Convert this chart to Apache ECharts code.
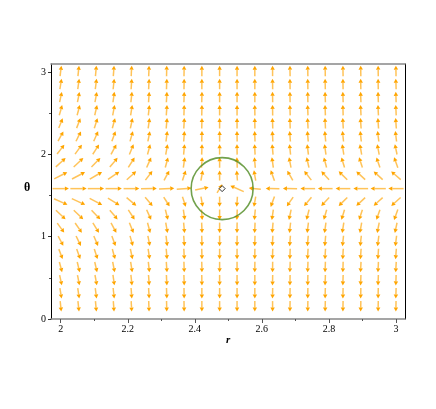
<!DOCTYPE html>
<html><head><meta charset="utf-8">
<script src="https://cdn.jsdelivr.net/npm/echarts@6/dist/echarts.min.js"></script>
<style>html,body{margin:0;padding:0;background:#fff}#c{width:436px;height:409px}</style>
</head><body><div id="c"></div>
<script>
// sample points of the field (r columns, theta rows)
const rGrid = [2.000,2.053,2.105,2.158,2.211,2.263,2.316,2.368,2.421,2.474,2.526,2.579,2.632,2.684,2.737,2.789,2.842,2.895,2.947,3.000];
const thetaGrid = [0.154,0.313,0.472,0.631,0.790,0.949,1.108,1.267,1.426,1.585,1.744,1.903,2.062,2.221,2.380,2.539,2.698,2.857,3.016];

// arrow direction (degrees, counter-clockwise from +r) for each row, bottom to top
const angleRow01 = [-84,-84,-85,-86,-87,-88,-89,-89,-90,-90,-90,-90,-90,-91,-91,-91,-91,-91,-91,-91];
const angleRow02 = [-81,-82,-83,-84,-86,-87,-88,-89,-90,-90,-90,-90,-91,-91,-91,-91,-91,-91,-91,-92];
const angleRow03 = [-78,-79,-80,-82,-84,-86,-87,-88,-89,-90,-90,-90,-91,-91,-91,-92,-92,-92,-92,-92];
const angleRow04 = [-75,-76,-77,-79,-81,-84,-86,-88,-89,-90,-90,-91,-91,-92,-92,-92,-92,-93,-93,-93];
const angleRow05 = [-69,-70,-72,-75,-78,-82,-85,-87,-89,-90,-90,-91,-92,-92,-93,-93,-93,-94,-94,-94];
const angleRow06 = [-62,-64,-67,-70,-74,-79,-83,-86,-89,-90,-91,-92,-93,-94,-95,-95,-96,-96,-97,-97];
const angleRow07 = [-54,-55,-58,-62,-68,-75,-80,-85,-88,-90,-91,-93,-95,-96,-97,-98,-99,-100,-101,-102];
const angleRow08 = [-43,-44,-46,-50,-57,-66,-76,-82,-86,-90,-92,-95,-98,-102,-104,-106,-107,-108,-109,-110];
const angleRow09 = [-24,-25,-28,-32,-40,-50,-58,-72,-80,-90,-94,-100,-110,-125,-130,-133,-135,-137,-138,-138];
const angleRow10 = [0,0,0,0,0,1,2,4,11,59,156,175,178,179,180,180,180,180,180,180];
const angleRow11 = [27,28,30,34,42,53,62,72,80,90,94,100,110,120,128,132,135,137,138,139];
const angleRow12 = [42,43,45,50,57,66,75,82,86,90,92,95,98,101,103,105,107,108,109,110];
const angleRow13 = [52,54,57,62,68,75,80,85,88,90,91,93,95,96,97,98,99,100,101,102];
const angleRow14 = [61,63,66,70,74,79,83,86,89,90,91,92,93,94,95,95,96,96,97,97];
const angleRow15 = [68,69,72,75,78,82,85,87,89,90,90,91,92,92,93,93,93,94,94,94];
const angleRow16 = [74,75,77,79,81,84,86,88,89,90,90,91,91,92,92,92,92,93,93,93];
const angleRow17 = [78,79,80,82,84,86,87,88,89,90,90,90,91,91,91,92,92,92,92,92];
const angleRow18 = [81,82,83,84,86,87,88,89,90,90,90,90,91,91,91,91,91,91,91,92];
const angleRow19 = [83,84,85,86,87,88,89,89,90,90,90,90,90,91,91,91,91,91,91,91];

// relative arrow magnitude for each row, bottom to top
const magRow01 = [1,1,1,1,1,1,1,1,1,1,1,1,1,1,1,1,1,1,1,1];
const magRow02 = [1,1,1,1,1,1,1,1,1,1,1,1,1,1,1,1,1,1,1,1];
const magRow03 = [1,1,1,1,1,1,1,1,1,1,1,1,1,1,1,1,1,1,1,1];
const magRow04 = [1,1,1,1,1,1,1,1,1,1,1,1,1,1,1,1,1,1,1,1];
const magRow05 = [1,1,1,1,1,1,1,1,1,1,1,1,1,1,1,1,1,1,1,1];
const magRow06 = [1.05,1.05,1.03,1.02,1,1,1,1,1,1,1,1,1,1,1,1,1,1,1,1];
const magRow07 = [1.12,1.12,1.1,1.08,1.05,1,1,1,1,1,1,1,1,1,1,1,1,1,1,1];
const magRow08 = [1.25,1.25,1.2,1.15,1.1,1.05,1,1,1,1,1,1,1,1,1,1,1,1.02,1.02,1.05];
const magRow09 = [1.4,1.4,1.35,1.3,1.2,1.1,1.05,1,1,0.95,0.95,1,1.05,1.05,1.1,1.1,1.15,1.15,1.15,1.2];
const magRow10 = [1.55,1.55,1.55,1.55,1.5,1.5,1.45,1.4,1.3,0.95,1.4,1.15,1.3,1.35,1.4,1.4,1.4,1.4,1.45,1.45];
const magRow11 = [1.4,1.4,1.35,1.3,1.2,1.1,1.05,1,1,0.95,0.95,1,1.05,1.05,1.1,1.1,1.15,1.15,1.15,1.2];
const magRow12 = [1.25,1.25,1.2,1.15,1.1,1.05,1,1,1,1,1,1,1,1,1,1,1,1.02,1.02,1.05];
const magRow13 = [1.12,1.12,1.1,1.08,1.05,1,1,1,1,1,1,1,1,1,1,1,1,1,1,1];
const magRow14 = [1.05,1.05,1.03,1.02,1,1,1,1,1,1,1,1,1,1,1,1,1,1,1,1];
const magRow15 = [1,1,1,1,1,1,1,1,1,1,1,1,1,1,1,1,1,1,1,1];
const magRow16 = [1,1,1,1,1,1,1,1,1,1,1,1,1,1,1,1,1,1,1,1];
const magRow17 = [1,1,1,1,1,1,1,1,1,1,1,1,1,1,1,1,1,1,1,1];
const magRow18 = [1,1,1,1,1,1,1,1,1,1,1,1,1,1,1,1,1,1,1,1];
const magRow19 = [1,1,1,1,1,1,1,1,1,1,1,1,1,1,1,1,1,1,1,1];

// critical point and its marker circle
const criticalPoint = [2.4815, 1.585];

// axis ticks
const xTickValues = [2, 2.2, 2.4, 2.6, 2.8, 3];
const xTickLabels = ['2', '2.2', '2.4', '2.6', '2.8', '3'];
const xMinorValues = [2.1, 2.3, 2.5, 2.7, 2.9];
const yTickValues = [0, 1, 2, 3];
const yTickLabels = ['0', '1', '2', '3'];
const yMinorValues = [0.5, 1.5, 2.5];

const angleRows = [angleRow01,angleRow02,angleRow03,angleRow04,angleRow05,angleRow06,angleRow07,angleRow08,angleRow09,angleRow10,
                   angleRow11,angleRow12,angleRow13,angleRow14,angleRow15,angleRow16,angleRow17,angleRow18,angleRow19];
const magRows = [magRow01,magRow02,magRow03,magRow04,magRow05,magRow06,magRow07,magRow08,magRow09,magRow10,
                 magRow11,magRow12,magRow13,magRow14,magRow15,magRow16,magRow17,magRow18,magRow19];

const fieldData = [];
thetaGrid.forEach((t, j) => {
  rGrid.forEach((r, i) => {
    fieldData.push([r, t, angleRows[j][i], magRows[j][i]]);
  });
});

const BASE_LEN = 10.5;
function renderArrow(params, api) {
  const c = api.coord([api.value(0), api.value(1)]);
  const a = api.value(2) * Math.PI / 180;
  const L = api.value(3) * BASE_LEN;
  const ux = Math.cos(a), uy = -Math.sin(a);
  const tail = [c[0] - ux * L / 2, c[1] - uy * L / 2];
  const tip = [c[0] + ux * L / 2, c[1] + uy * L / 2];
  const hl = 4, hw = 2.2;
  const b = [tip[0] - ux * hl, tip[1] - uy * hl];
  const px = -uy, py = ux;
  return {
    type: 'group',
    children: [
      { type: 'line', shape: { x1: tail[0], y1: tail[1], x2: b[0], y2: b[1] },
        style: { stroke: '#FFB83C', lineWidth: 1.5, opacity: 0.85 } },
      { type: 'polygon', shape: { points: [tip, [b[0] + px * hw, b[1] + py * hw], [b[0] - px * hw, b[1] - py * hw]] },
        style: { fill: '#FFA500' } }
    ]
  };
}

const serif = 'Liberation Serif';
const X_MIN = 1.971, X_MAX = 3.027, Y_MIN = 0, Y_MAX = 3.1;

const chart = echarts.init(document.getElementById('c'), null, { renderer: 'canvas' });
chart.setOption({
  animation: false,
  backgroundColor: '#ffffff',
  grid: { left: 51, right: 31, top: 64, bottom: 90, containLabel: false },
  xAxis: [
    { type: 'value', position: 'bottom', min: X_MIN, max: X_MAX,
      axisLine: { show: true, onZero: false, lineStyle: { color: '#888', width: 1.5 } },
      axisTick: { show: true, inside: false, length: 4, customValues: xTickValues, lineStyle: { color: '#555' } },
      axisLabel: { show: true, customValues: xTickValues, margin: 5, fontFamily: serif, fontSize: 10, color: '#000',
        formatter: v => { const k = xTickValues.findIndex(t => Math.abs(t - v) < 1e-6); return k >= 0 ? xTickLabels[k] : ''; } },
      splitLine: { show: false } },
    { type: 'value', position: 'bottom', min: X_MIN, max: X_MAX,
      axisLine: { show: false, onZero: false },
      axisTick: { show: true, inside: false, length: 2, customValues: xMinorValues, lineStyle: { color: '#555' } },
      axisLabel: { show: false }, splitLine: { show: false } },
    { type: 'value', position: 'top', min: X_MIN, max: X_MAX,
      axisLine: { show: true, onZero: false, lineStyle: { color: '#888', width: 1.5 } },
      axisTick: { show: false }, axisLabel: { show: false }, splitLine: { show: false } }
  ],
  yAxis: [
    { type: 'value', position: 'left', min: Y_MIN, max: Y_MAX,
      axisLine: { show: true, onZero: false, lineStyle: { color: '#000', width: 1 } },
      axisTick: { show: true, inside: false, length: 3, customValues: yTickValues, lineStyle: { color: '#333' } },
      axisLabel: { show: true, customValues: yTickValues, margin: 5, fontFamily: serif, fontSize: 10, color: '#000',
        formatter: v => { const k = yTickValues.findIndex(t => Math.abs(t - v) < 1e-6); return k >= 0 ? yTickLabels[k] : ''; } },
      splitLine: { show: false } },
    { type: 'value', position: 'left', min: Y_MIN, max: Y_MAX,
      axisLine: { show: false, onZero: false },
      axisTick: { show: true, inside: false, length: 2, customValues: yMinorValues, lineStyle: { color: '#555' } },
      axisLabel: { show: false }, splitLine: { show: false } },
    { type: 'value', position: 'right', min: Y_MIN, max: Y_MAX,
      axisLine: { show: true, onZero: false, lineStyle: { color: '#000', width: 1 } },
      axisTick: { show: false }, axisLabel: { show: false }, splitLine: { show: false } }
  ],
  series: [
    { type: 'custom', xAxisIndex: 0, yAxisIndex: 0, renderItem: renderArrow, data: fieldData, silent: true, z: 2 },
    { type: 'scatter', xAxisIndex: 0, yAxisIndex: 0, data: [criticalPoint], symbol: 'circle', symbolSize: 62,
      itemStyle: { color: 'rgba(0,0,0,0)', borderColor: '#4E8A1F', borderWidth: 1.6 }, silent: true, z: 3 },
    { type: 'scatter', xAxisIndex: 0, yAxisIndex: 0, data: [criticalPoint], symbol: 'diamond', symbolSize: 6,
      itemStyle: { color: '#ffffff', borderColor: '#000', borderWidth: 1 }, silent: true, z: 4 }
  ],
  graphic: [
    { type: 'text', left: 24, top: 182, style: { text: 'θ', font: 'bold 12px "Liberation Serif"', fill: '#000' } },
    { type: 'text', left: 226, top: 335, style: { text: 'r', font: 'italic bold 11px "Liberation Serif"', fill: '#000' } }
  ]
});
</script>
</body></html>
